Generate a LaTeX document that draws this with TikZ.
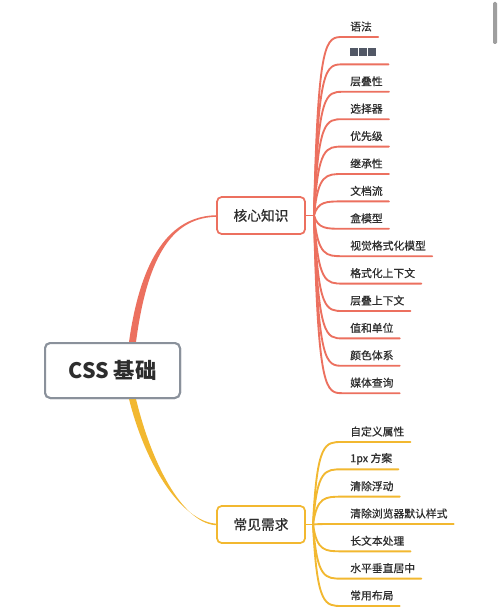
\documentclass[tikz,border=0pt]{standalone}
\usepackage{fontspec}
\setmainfont{Noto Sans CJK SC}
\newfontfamily\medfont[FakeBold=0.6]{Noto Sans CJK SC}
\usetikzlibrary{calc}
\definecolor{redb}{RGB}{236,112,95}
\definecolor{yelb}{RGB}{242,184,48}
\definecolor{rootb}{RGB}{138,145,155}
\definecolor{txt}{RGB}{45,45,45}
\definecolor{blk}{RGB}{82,88,102}
\begin{document}
\begin{tikzpicture}[x=0.75pt,y=-0.75pt,
  leaf/.style={anchor=west,inner sep=0pt,font=\medfont\fontsize{8.1}{9}\selectfont,text=txt},
  topic/.style={draw,fill=white,line width=1.3pt,rounded corners=3.5pt,minimum width=66pt,minimum height=27.75pt,inner sep=0pt,font=\medfont\fontsize{10.3}{12}\selectfont,text=txt},
  rootbox/.style={draw=rootb,fill=white,line width=1.5pt,rounded corners=4pt,minimum width=101.25pt,minimum height=41.25pt,inner sep=0pt,font=\fontsize{16}{18}\selectfont\bfseries,text=txt},
  twig/.style={line width=1.4pt,line cap=round}]
\useasboundingbox (0,0) rectangle (500,616);
\fill[white] (0,0) rectangle (500,616);
% scrollbar
\fill[gray!75, rounded corners=1pt] (493,2) rectangle (497,44);

% nodes
\node[rootbox] (root) at (112.5,370.5) {CSS 基础};
\coordinate (rt) at ($(root.north)+(20,0)$);
\coordinate (rb) at ($(root.south)+(20,0)$);

% main branches (tapered)
\fill[redb] ($(rt)+(-3.5,0)$) .. controls (142,249) and (175,215.2) .. (218,215.2)
  -- (218,216.8) .. controls (175,216.8) and (148,251) .. ($(rt)+(3.5,0)$) -- cycle;
\fill[yelb] ($(rb)+(-3.5,0)$) .. controls (147,471) and (185,523.7) .. (218,523.7)
  -- (218,525.3) .. controls (185,525.3) and (153,469) .. ($(rb)+(3.5,0)$) -- cycle;
\node[rootbox] at (root) {CSS 基础};

\node[topic,draw=redb] (k) at (261,215.5) {核心知识};
\node[topic,draw=yelb] (c) at (261,524.5) {常见需求};

\coordinate (kj) at (314,215.5);
\coordinate (cj) at (313,524.5);
\draw[twig,redb] (k.east) -- (kj);
\draw[twig,yelb] (c.east) -- (cj);

% core knowledge leaves
\foreach \t [count=\n] in {语法,\hspace*{24pt},层叠性,选择器,优先级,继承性,文档流,盒模型,视觉格式化模型,格式化上下文,层叠上下文,值和单位,颜色体系,媒体查询}{
  \pgfmathsetmacro\yy{37+27.4*(\n-1)}
  \node[leaf] (k\n) at (350,\yy-10.5) {\t};
  \draw[twig,redb] (kj) .. controls (318,\yy) and (326,\yy) .. (343,\yy) -- ($(k\n.east)+(6,10.5)$);
}
% unreadable label drawn as blocks
\foreach \dx in {0,9,18}{
  \fill[blk] ($(k2.west)+(\dx,-6)$) rectangle ($(k2.west)+(\dx+7.5,2)$);
}

% common needs leaves
\foreach \t [count=\n] in {自定义属性,1px 方案,清除浮动,清除浏览器默认样式,长文本处理,水平垂直居中,常用布局}{
  \pgfmathsetmacro\yy{442+27.33*(\n-1)}
  \node[leaf] (c\n) at (350,\yy-10.5) {\t};
  \draw[twig,yelb] (cj) .. controls (317,\yy) and (325,\yy) .. (342,\yy) -- ($(c\n.east)+(6,10.5)$);
}
\end{tikzpicture}
\end{document}
